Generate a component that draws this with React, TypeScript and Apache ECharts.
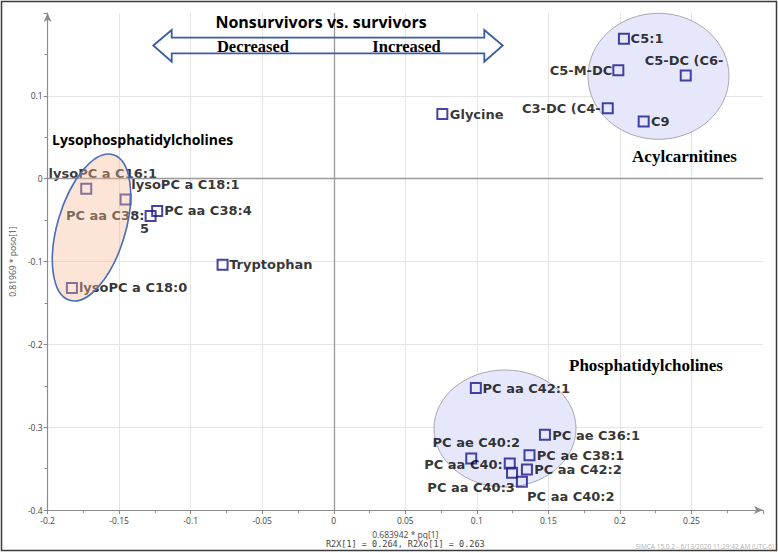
import React, { useEffect, useRef } from "react";
import * as echarts from "echarts";

// ---- data ----
const names = [
  "lysoPC a C16:1",
  "lysoPC a C18:1",
  "PC aa C38:5",
  "PC aa C38:4",
  "Tryptophan",
  "lysoPC a C18:0",
  "Glycine",
  "C3-DC (C4-",
  "C9",
  "C5-M-DC",
  "C5:1",
  "C5-DC (C6-",
  "PC aa C42:1",
  "PC ae C36:1",
  "PC ae C38:1",
  "PC ae C40:2",
  "PC aa C40:",
  "PC aa C40:2",
  "PC aa C42:2",
  "PC aa C40:3",
];
const xValues = [
  -0.173, -0.1455, -0.128, -0.1234, -0.0777, -0.183, 0.0759, 0.1915, 0.2166,
  0.1989, 0.2028, 0.246, 0.0993, 0.1476, 0.1368, 0.0961, 0.123, 0.1246, 0.135,
  0.1315,
];
const yValues = [
  -0.012, -0.025, -0.045, -0.039, -0.104, -0.132, 0.078, 0.085, 0.069, 0.131,
  0.169, 0.1247, -0.2526, -0.309, -0.3337, -0.3377, -0.3437, -0.355, -0.351,
  -0.3657,
];
const xMin = -0.2;
const xMax = 0.3;
const xStep = 0.05;
const yMin = -0.4;
const yMax = 0.2;
const yStep = 0.1;
const xAxisName = "0.683942 * pq[1]";
const xAxisName2 = "R2X[1] = 0.264, R2Xo[1] = 0.263";
const yAxisName = "0.81969 * poso[1]";
const title = "Nonsurvivors vs. survivors";
const leftArrowText = "Decreased";
const rightArrowText = "Increased";
const groupLyso = "Lysophosphatidylcholines";
const groupAcyl = "Acylcarnitines";
const groupPC = "Phosphatidylcholines";
const watermark = "SIMCA 15.0.2 - 6/13/2020 11:29:42 AM (UTC-6)";

// ---- label placement (layout only): [dx, dy, align] from marker centre ----
const labelLayout: Record<string, [number, number, "left" | "right"]> = {
  "lysoPC a C16:1": [-36.6, -14, "left"],
  "lysoPC a C18:1": [6.7, -13.5, "left"],
  "PC aa C38:5": [-83.7, 7, "left"],
  "PC aa C38:4": [8, 0.5, "left"],
  Tryptophan: [7.6, 0.6, "left"],
  "lysoPC a C18:0": [8, 0.7, "left"],
  Glycine: [8.4, 1, "left"],
  "C3-DC (C4-": [-6, 1, "right"],
  C9: [8.4, 1, "left"],
  "C5-M-DC": [-5, 1.5, "right"],
  "C5:1": [7.7, 1, "left"],
  "C5-DC (C6-": [-40, -14.3, "left"],
  "PC aa C42:1": [7.7, 1.6, "left"],
  "PC ae C36:1": [8.4, 1.3, "left"],
  "PC ae C38:1": [8.3, 1, "left"],
  "PC ae C40:2": [-37.7, -15, "left"],
  "PC aa C40:": [-6, 1.6, "right"],
  "PC aa C40:2": [16, 24.7, "left"],
  "PC aa C42:2": [8.3, 1.3, "left"],
  "PC aa C40:3": [-6, 6.7, "right"],
};

const LABEL_FONT = "'DejaVu Sans', sans-serif";
const SANS = "'Open Sans', sans-serif";
const SERIF = "'Liberation Serif', 'DejaVu Serif', serif";
const LABEL_COLOR = "#000";

export default function App() {
  const ref = useRef<HTMLDivElement>(null);

  useEffect(() => {
    if (!ref.current) return;
    const chart = echarts.init(ref.current, undefined, { renderer: "svg" });

    const data = names.map((n, i) => {
      const [dx, dy, align] = labelLayout[n];
      const split = n === "PC aa C38:5";
      return {
        name: n,
        value: [xValues[i], yValues[i]],
        label: {
          position: [5 + dx, 5 + dy],
          align,
          verticalAlign: "middle",
          formatter: split ? "{a|PC aa C38:}\n{b|5}" : n,
          rich: split
            ? {
                a: {
                  fontFamily: LABEL_FONT,
                  fontWeight: "bold",
                  fontSize: 13,
                  color: LABEL_COLOR,
                  lineHeight: 13,
                },
                b: {
                  fontFamily: LABEL_FONT,
                  fontWeight: "bold",
                  fontSize: 13,
                  color: LABEL_COLOR,
                  lineHeight: 13,
                  padding: [0, 0, 0, 74],
                },
              }
            : undefined,
        },
      };
    });

    const axisLineStyle = { color: "#8c8c8c", width: 1.2 };

    const option: any = {
      animation: false,
      backgroundColor: "#ffffff",
      grid: { left: 38, right: 15, top: 13, bottom: 40, containLabel: false },
      xAxis: {
        type: "value",
        min: xMin,
        max: xMax,
        interval: xStep,
        name: `{a|${xAxisName}}\n{b|${xAxisName2}}`,
        nameLocation: "middle",
        nameGap: 13,
        nameTextStyle: {
          rich: {
            a: { fontFamily: SANS, fontSize: 8.5, color: "#444", lineHeight: 9 },
            b: {
              fontFamily: "'DejaVu Sans Mono', monospace",
              fontSize: 8.5,
              color: "#444",
              lineHeight: 9,
            },
          },
        },
        axisLine: {
          show: true,
          onZero: false,
          lineStyle: axisLineStyle,
          symbol: ["none", "arrow"],
          symbolSize: [6, 9],
        },
        axisTick: { show: true, length: 4, lineStyle: { color: "#8c8c8c" } },
        minorTick: { show: true, splitNumber: 2, length: 3, lineStyle: { color: "#8c8c8c" } },
        axisLabel: {
          fontSize: 8.5,
          fontFamily: SANS,
          color: "#444",
          margin: 6,
          showMaxLabel: false,
        },
        splitLine: {
          show: true,
          showMaxLine: false,
          showMinLine: false,
          lineStyle: { color: "#e4e4e4", width: 1 },
        },
      },
      yAxis: {
        type: "value",
        min: yMin,
        max: yMax,
        interval: yStep,
        name: yAxisName,
        nameLocation: "middle",
        nameGap: 21,
        nameRotate: 90,
        nameTextStyle: { fontFamily: SANS, fontSize: 8.5, color: "#555" },
        axisLine: {
          show: true,
          onZero: false,
          lineStyle: axisLineStyle,
          symbol: ["none", "arrow"],
          symbolSize: [6, 9],
        },
        axisTick: { show: true, length: 4, lineStyle: { color: "#8c8c8c" } },
        minorTick: { show: true, splitNumber: 2, length: 3, lineStyle: { color: "#8c8c8c" } },
        axisLabel: {
          fontSize: 8.5,
          fontFamily: SANS,
          color: "#444",
          margin: 5,
          showMaxLabel: false,
        },
        splitLine: {
          show: true,
          showMaxLine: false,
          showMinLine: false,
          lineStyle: { color: "#e4e4e4", width: 1 },
        },
      },
      series: [
        {
          type: "scatter",
          symbol: "rect",
          symbolSize: 10,
          z: 3,
          itemStyle: {
            color: "rgba(0,0,0,0)",
            borderColor: "#16168a",
            borderWidth: 2,
          },
          label: {
            show: true,
            fontFamily: LABEL_FONT,
            fontWeight: "bold",
            fontSize: 13,
            color: LABEL_COLOR,
            textBorderWidth: 0,
          },
          labelLayout: { hideOverlap: false },
          data,
          markLine: {
            silent: true,
            symbol: "none",
            label: { show: false },
            lineStyle: { color: "#9a9a9a", type: "solid", width: 1.3 },
            data: [{ xAxis: 0 }, { yAxis: 0 }],
          },
        },
      ],
      graphic: [
        // group circles (behind markers)
        {
          type: "ellipse",
          z: 1,
          shape: { cx: 658.5, cy: 76.3, rx: 70.5, ry: 63 },
          style: { fill: "#e6e7fb", stroke: "#a8a8b0", lineWidth: 1 },
        },
        {
          type: "ellipse",
          z: 1,
          shape: { cx: 505, cy: 428.5, rx: 71, ry: 58.5 },
          style: { fill: "#e6e7fb", stroke: "#a8a8b0", lineWidth: 1 },
        },
        // lysophosphatidylcholine ellipse (over markers, translucent)
        {
          type: "ellipse",
          z: 50,
          x: 91.5,
          y: 227.5,
          rotation: -0.29,
          shape: { cx: 0, cy: 0, rx: 34, ry: 76 },
          style: {
            fill: "rgba(247,184,147,0.38)",
            stroke: "#4a6cba",
            lineWidth: 1.6,
          },
        },
        // double arrow
        {
          type: "polygon",
          z: 60,
          shape: {
            points: [
              [153.3, 45.5],
              [171.7, 30],
              [171.7, 37.7],
              [484.3, 37.7],
              [484.3, 30],
              [502.7, 45.5],
              [484.3, 61.7],
              [484.3, 53.3],
              [171.7, 53.3],
              [171.7, 61.7],
            ],
          },
          style: { fill: "none", stroke: "#3b5ba5", lineWidth: 1.8 },
        },
        {
          type: "text",
          z: 60,
          x: 321,
          y: 22,
          style: {
            text: title,
            fontFamily: SANS,
            fontWeight: "bold",
            fontSize: 16,
            fill: "#000",
            align: "center",
            verticalAlign: "middle",
          },
        },
        {
          type: "text",
          z: 60,
          x: 253,
          y: 46,
          style: {
            text: leftArrowText,
            fontFamily: SERIF,
            fontWeight: "bold",
            fontSize: 16.5,
            fill: "#000",
            align: "center",
            verticalAlign: "middle",
          },
        },
        {
          type: "text",
          z: 60,
          x: 406.5,
          y: 46,
          style: {
            text: rightArrowText,
            fontFamily: SERIF,
            fontWeight: "bold",
            fontSize: 16.5,
            fill: "#000",
            align: "center",
            verticalAlign: "middle",
          },
        },
        {
          type: "text",
          z: 60,
          x: 142.7,
          y: 139,
          style: {
            text: groupLyso,
            fontFamily: SANS,
            fontWeight: "bold",
            fontSize: 14,
            fill: "#000",
            align: "center",
            verticalAlign: "middle",
          },
        },
        {
          type: "text",
          z: 60,
          x: 684.5,
          y: 156,
          style: {
            text: groupAcyl,
            fontFamily: SERIF,
            fontWeight: "bold",
            fontSize: 17,
            fill: "#000",
            align: "center",
            verticalAlign: "middle",
          },
        },
        {
          type: "text",
          z: 60,
          x: 646,
          y: 365,
          style: {
            text: groupPC,
            fontFamily: SERIF,
            fontWeight: "bold",
            fontSize: 17,
            fill: "#000",
            align: "center",
            verticalAlign: "middle",
          },
        },
        {
          type: "text",
          z: 60,
          x: 774,
          y: 546,
          style: {
            text: watermark,
            fontFamily: SANS,
            fontSize: 6.5,
            fill: "#b0b0b0",
            align: "right",
            verticalAlign: "middle",
          },
        },
        // outer frame
        {
          type: "rect",
          z: 70,
          shape: { x: 1.5, y: 1.5, width: 775, height: 549 },
          style: { fill: "none", stroke: "#3a3a3a", lineWidth: 1.5 },
        },
      ],
    };

    chart.setOption(option);
    return () => chart.dispose();
  }, []);

  return (
    <div
      ref={ref}
      style={{
        position: "absolute",
        left: 0,
        top: 0,
        width: 778,
        height: 553,
        background: "#fff",
      }}
    />
  );
}
